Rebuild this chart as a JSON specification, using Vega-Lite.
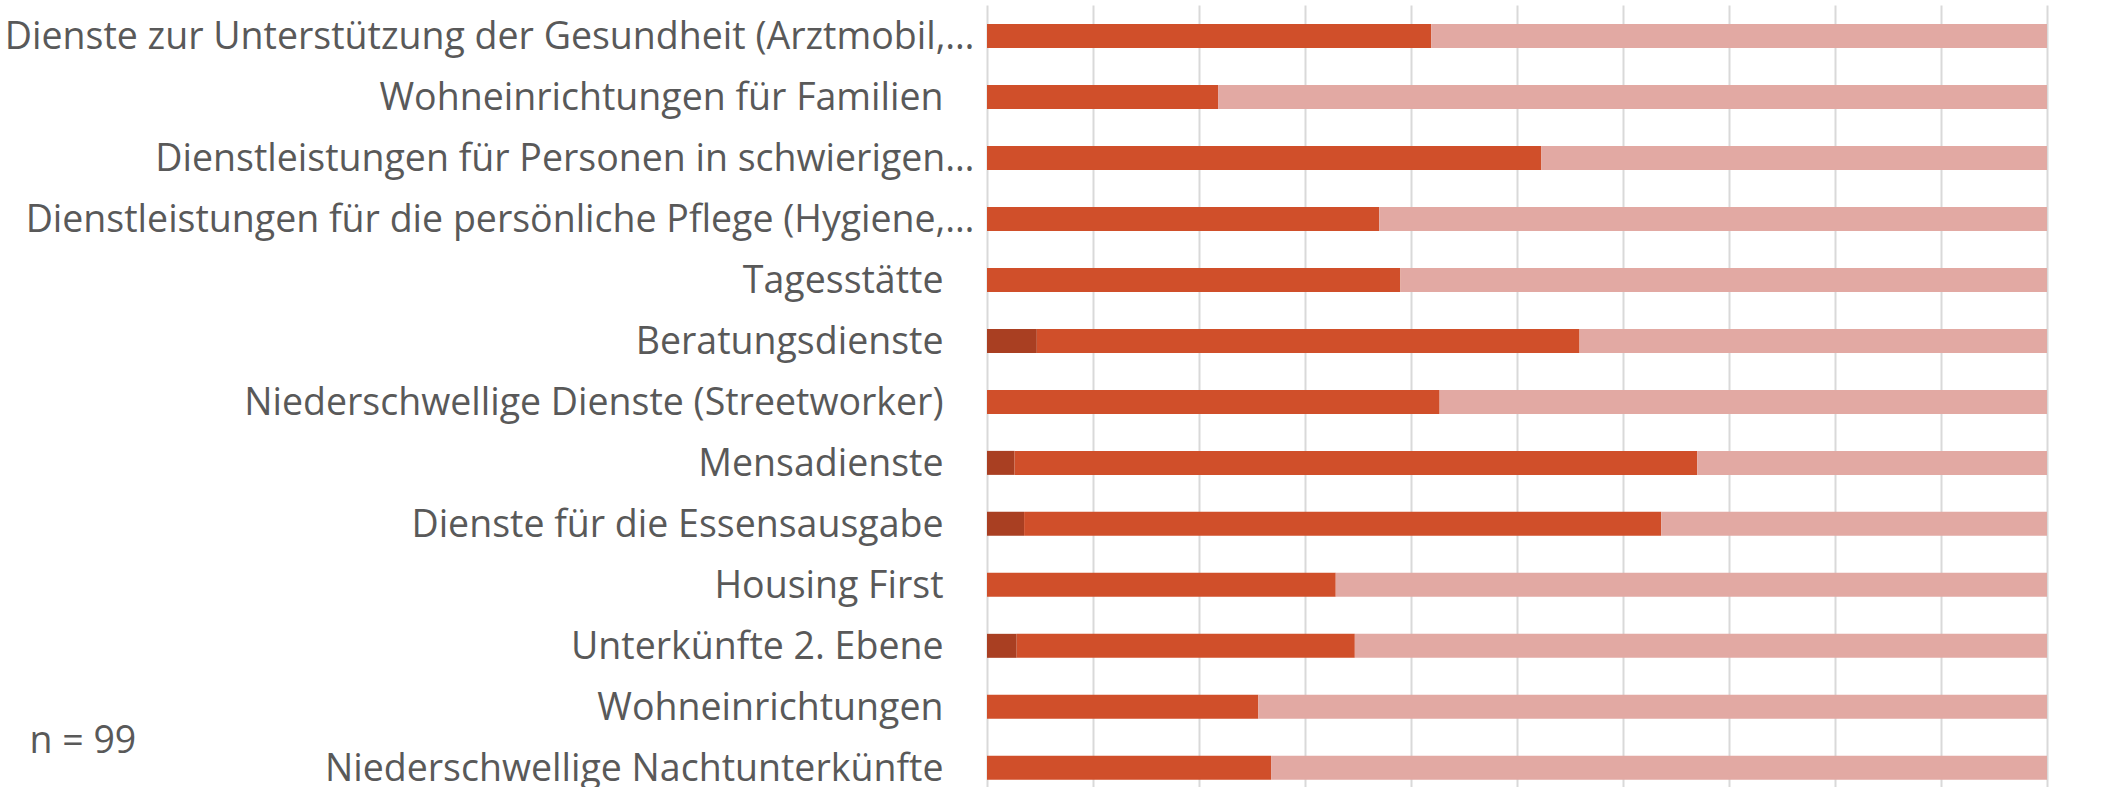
{
  "$schema": "https://vega.github.io/schema/vega-lite/v6.json",
  "width": 1060,
  "height": 782,
  "autosize": {"type": "none"},
  "padding": {"left": 987, "top": 5, "right": 62, "bottom": 0},
  "background": "white",
  "config": {"view": {"stroke": null}, "font": "Open Sans"},
  "data": {
    "values": [
      {"item": "Dienste zur Unterstützung der Gesundheit (Arztmobil,…", "series": "Serie 1", "k": 1, "value": 0},
      {"item": "Dienste zur Unterstützung der Gesundheit (Arztmobil,…", "series": "Serie 2", "k": 2, "value": 41.9},
      {"item": "Dienste zur Unterstützung der Gesundheit (Arztmobil,…", "series": "Serie 3", "k": 3, "value": 58.1},
      {"item": "Wohneinrichtungen für Familien", "series": "Serie 1", "k": 1, "value": 0},
      {"item": "Wohneinrichtungen für Familien", "series": "Serie 2", "k": 2, "value": 21.8},
      {"item": "Wohneinrichtungen für Familien", "series": "Serie 3", "k": 3, "value": 78.2},
      {"item": "Dienstleistungen für Personen in schwierigen…", "series": "Serie 1", "k": 1, "value": 0},
      {"item": "Dienstleistungen für Personen in schwierigen…", "series": "Serie 2", "k": 2, "value": 52.3},
      {"item": "Dienstleistungen für Personen in schwierigen…", "series": "Serie 3", "k": 3, "value": 47.7},
      {"item": "Dienstleistungen für die persönliche Pflege (Hygiene,…", "series": "Serie 1", "k": 1, "value": 0},
      {"item": "Dienstleistungen für die persönliche Pflege (Hygiene,…", "series": "Serie 2", "k": 2, "value": 37.0},
      {"item": "Dienstleistungen für die persönliche Pflege (Hygiene,…", "series": "Serie 3", "k": 3, "value": 63.0},
      {"item": "Tagesstätte", "series": "Serie 1", "k": 1, "value": 0},
      {"item": "Tagesstätte", "series": "Serie 2", "k": 2, "value": 39.0},
      {"item": "Tagesstätte", "series": "Serie 3", "k": 3, "value": 61.0},
      {"item": "Beratungsdienste", "series": "Serie 1", "k": 1, "value": 4.7},
      {"item": "Beratungsdienste", "series": "Serie 2", "k": 2, "value": 51.2},
      {"item": "Beratungsdienste", "series": "Serie 3", "k": 3, "value": 44.1},
      {"item": "Niederschwellige Dienste (Streetworker)", "series": "Serie 1", "k": 1, "value": 0},
      {"item": "Niederschwellige Dienste (Streetworker)", "series": "Serie 2", "k": 2, "value": 42.7},
      {"item": "Niederschwellige Dienste (Streetworker)", "series": "Serie 3", "k": 3, "value": 57.3},
      {"item": "Mensadienste", "series": "Serie 1", "k": 1, "value": 2.6},
      {"item": "Mensadienste", "series": "Serie 2", "k": 2, "value": 64.4},
      {"item": "Mensadienste", "series": "Serie 3", "k": 3, "value": 33.0},
      {"item": "Dienste für die Essensausgabe", "series": "Serie 1", "k": 1, "value": 3.5},
      {"item": "Dienste für die Essensausgabe", "series": "Serie 2", "k": 2, "value": 60.1},
      {"item": "Dienste für die Essensausgabe", "series": "Serie 3", "k": 3, "value": 36.4},
      {"item": "Housing First", "series": "Serie 1", "k": 1, "value": 0},
      {"item": "Housing First", "series": "Serie 2", "k": 2, "value": 32.9},
      {"item": "Housing First", "series": "Serie 3", "k": 3, "value": 67.1},
      {"item": "Unterkünfte 2. Ebene", "series": "Serie 1", "k": 1, "value": 2.8},
      {"item": "Unterkünfte 2. Ebene", "series": "Serie 2", "k": 2, "value": 31.9},
      {"item": "Unterkünfte 2. Ebene", "series": "Serie 3", "k": 3, "value": 65.3},
      {"item": "Wohneinrichtungen", "series": "Serie 1", "k": 1, "value": 0},
      {"item": "Wohneinrichtungen", "series": "Serie 2", "k": 2, "value": 25.6},
      {"item": "Wohneinrichtungen", "series": "Serie 3", "k": 3, "value": 74.4},
      {"item": "Niederschwellige Nachtunterkünfte", "series": "Serie 1", "k": 1, "value": 0},
      {"item": "Niederschwellige Nachtunterkünfte", "series": "Serie 2", "k": 2, "value": 26.8},
      {"item": "Niederschwellige Nachtunterkünfte", "series": "Serie 3", "k": 3, "value": 73.2}
    ]
  },
  "mark": {"type": "bar"},
  "encoding": {
    "y": {
      "field": "item",
      "type": "nominal",
      "sort": null,
      "scale": {"paddingInner": 0.6064, "paddingOuter": 0.215, "align": 0.725, "round": false},
      "axis": {
        "title": "n = 99",
        "titleAngle": 0,
        "titleX": -958,
        "titleY": 747,
        "titleAlign": "left",
        "titleBaseline": "alphabetic",
        "titleFont": "Open Sans",
        "titleFontSize": 37.5,
        "titleFontWeight": "normal",
        "titleColor": "#595959",
        "labelFont": "Open Sans",
        "labelFontSize": 37.5,
        "labelColor": "#595959",
        "labelLimit": 2000,
        "labelPadding": {"condition": {"test": "indexof(datum.label, '\u2026') >= 0", "value": 13}, "value": 44},
        "labelBaseline": "alphabetic",
        "labelOffset": 12.8,
        "ticks": false,
        "domain": false,
        "grid": false
      }
    },
    "x": {
      "field": "value",
      "type": "quantitative",
      "stack": "zero",
      "scale": {"domain": [0, 100], "nice": false},
      "axis": {
        "title": null,
        "labels": false,
        "ticks": false,
        "domain": false,
        "grid": true,
        "gridColor": "#D9D9D9",
        "gridWidth": 2,
        "values": [0, 10, 20, 30, 40, 50, 60, 70, 80, 90, 100]
      }
    },
    "color": {
      "field": "series",
      "type": "nominal",
      "scale": {"domain": ["Serie 1", "Serie 2", "Serie 3"], "range": ["#A93F22", "#D04F2A", "#E2A9A3"]},
      "legend": null
    },
    "order": {"field": "k", "type": "quantitative"}
  }
}
